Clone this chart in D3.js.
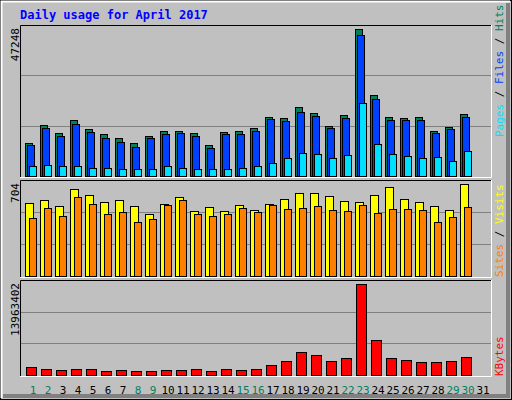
<!DOCTYPE html>
<html>
<head>
<meta charset="utf-8">
<script src="https://cdn.jsdelivr.net/npm/d3@7"></script>
<style>
  body { margin: 0; background: #fff; }
  text { font-family: "DejaVu Sans Mono", monospace; }
</style>
</head>
<body>
<svg id="chart"></svg>
<script>
const days = d3.range(1, 32);
const weekendDays = [1, 2, 8, 9, 15, 16, 22, 23, 29, 30];
const hits = [10700, 16470, 13900, 18080, 15190, 13590, 12310, 10700, 12950, 14550, 14550, 13910, 10060, 14230, 14550, 15510,
  19040, 18720, 22240, 20320, 16150, 19680, 47248, 26090, 19040, 18720, 19040, 14550, 15830, 20000, 0];
const files = [10060, 15510, 12950, 16790, 14230, 12310, 11030, 9420, 12310, 13590, 13910, 12950, 9100, 13590, 13590, 14550,
  18400, 17760, 20640, 19360, 15510, 18720, 45320, 24810, 18080, 18080, 18080, 13910, 15190, 19040, 0];
const pages = [3330, 3650, 3330, 3330, 2690, 2690, 2370, 2370, 2370, 3330, 2690, 2370, 2370, 2370, 2690, 3330,
  4290, 5900, 7500, 7180, 5900, 6860, 23520, 10380, 7180, 6540, 5900, 6220, 4940, 8140, 0];
const visits = [559, 582, 536, 665, 620, 566, 582, 536, 475, 551, 605, 498, 528, 498, 544, 505,
  551, 589, 635, 635, 612, 574, 566, 620, 681, 589, 566, 536, 505, 704, 0];
const sites = [445, 521, 460, 605, 551, 475, 490, 414, 437, 544, 582, 475, 460, 475, 521, 490,
  544, 513, 521, 536, 505, 498, 544, 483, 513, 513, 505, 414, 452, 528, 0];
const kbytes = [1274000, 968000, 815000, 968000, 968000, 662000, 815000, 662000, 662000, 815000, 815000, 968000, 662000, 968000, 815000, 968000,
  1580000, 2191000, 3567000, 3109000, 2191000, 2650000, 13963402, 5402000, 2650000, 2344000, 2038000, 2038000, 2191000, 2803000, 0];

const W = 512, H = 400;
const svg = d3.select('#chart').attr('width', W).attr('height', H);

// frame
svg.append('rect').attr('width', W).attr('height', H).attr('fill', '#c0c0c0');
svg.append('rect').attr('x', 0.5).attr('y', 0.5).attr('width', W - 1).attr('height', H - 1)
  .attr('fill', 'none').attr('stroke', '#000');
svg.append('path').attr('d', `M1.5,${H - 2}V1.5H${W - 2}`).attr('stroke', '#fff').attr('stroke-width', 2).attr('fill', 'none');
svg.append('path').attr('d', `M${W - 4},3V${H - 4}H3`).attr('stroke', '#808080').attr('stroke-width', 4).attr('fill', 'none');

svg.append('text').attr('x', 20).attr('y', 19).attr('fill', '#0000ff')
  .attr('font-size', 12).attr('font-weight', 'bold').text('Daily usage for April 2017');

const x = d3.scaleLinear().domain([1, 31]).range([25, 475]);
const left = 20, right = 491;

function panel(top, bottom, max, label) {
  const y = d3.scaleLinear().domain([0, max]).range([bottom - 1, top + 4]);
  const g = svg.append('g');
  const step = (bottom - 1 - top) / 3;
  [1, 2].forEach(i => {
    g.append('line').attr('x1', left).attr('x2', right)
      .attr('y1', Math.round(bottom - 1 - step * i) + 0.5).attr('y2', Math.round(bottom - 1 - step * i) + 0.5)
      .attr('stroke', '#808080');
  });
  g.append('path').attr('d', `M${left + 0.5},${bottom}V${top + 0.5}H${right}`).attr('stroke', '#000').attr('fill', 'none');
  g.append('path').attr('d', `M${left},${bottom + 0.5}H${right + 0.5}V${top}`).attr('stroke', '#fff').attr('fill', 'none');
  g.append('text').attr('transform', `translate(19,${top + 3}) rotate(-90)`)
    .attr('text-anchor', 'end').attr('font-size', 11).attr('fill', '#000').text(label);
  return y;
}

function bars(y, data, off, w, color) {
  svg.append('g').selectAll('rect').data(data).join('rect')
    .filter(d => d > 0)
    .attr('x', (d, i) => x(days[i]) + off + 0.5)
    .attr('y', d => Math.round(y(d)) + 0.5)
    .attr('width', w)
    .attr('height', d => Math.round(y(0) - y(d)))
    .attr('fill', color).attr('stroke', '#000');
}

const y1 = panel(25, 177, 47248, '47248');
bars(y1, hits, 0, 7, '#00805c');
bars(y1, files, 2, 7, '#0040ff');
bars(y1, pages, 4, 7, '#00e0ff');

const y2 = panel(180, 277, 704, '704');
bars(y2, visits, 0, 8, '#ffff00');
bars(y2, sites, 4, 7, '#ff8000');

const y3 = panel(280, 376, 13963402, '13963402');
bars(y3, kbytes, 1, 10, '#ff0000');

// right side legends
function legend(bottom, parts) {
  const t = svg.append('text').attr('transform', `translate(503,${bottom}) rotate(-90)`)
    .attr('font-size', 11);
  parts.forEach(([s, c]) => t.append('tspan').attr('fill', c).text(s));
}
legend(137, [['Pages', '#00e0ff'], [' / ', '#000'], ['Files', '#0040ff'], [' / ', '#000'], ['Hits', '#00805c']]);
legend(277, [['Sites', '#ff8000'], [' / ', '#000'], ['Visits', '#ffff00']]);
legend(376, [['KBytes', '#ff0000']]);

svg.append('g').selectAll('text').data(days).join('text')
  .attr('x', d => x(d) + 8).attr('y', 394)
  .attr('text-anchor', 'middle').attr('font-size', 11)
  .attr('fill', d => weekendDays.includes(d) ? '#00805c' : '#000')
  .text(d => d);
</script>
</body>
</html>
